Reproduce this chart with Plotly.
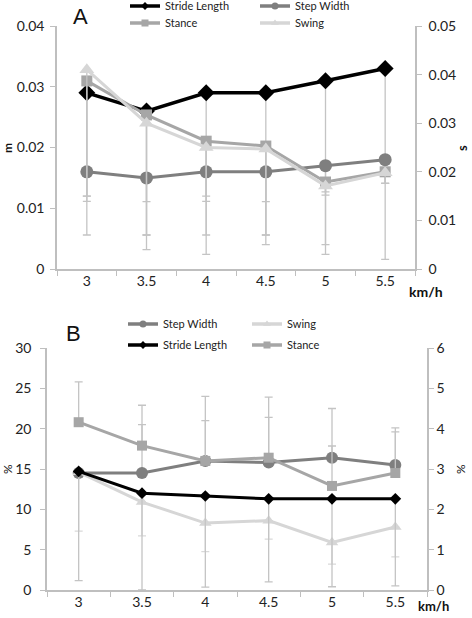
import plotly.graph_objects as go

speeds = ["3", "3.5", "4", "4.5", "5", "5.5"]

# ---- Panel A (left axis: m, right axis: s); error bars are minus-only ----
a_stride = [0.029, 0.026, 0.029, 0.029, 0.031, 0.033]
a_stride_err = [0.0234, 0.0228, 0.0266, 0.0250, 0.0286, 0.0314]
a_step = [0.016, 0.015, 0.016, 0.016, 0.017, 0.018]
a_step_err = [0.0040, 0.0039, 0.0040, 0.0049, 0.0043, 0.0039]
a_stance = [0.0387, 0.0317, 0.0263, 0.0253, 0.0179, 0.0200]
a_stance_err = [0.0248, 0.0247, 0.0124, 0.0183, 0.0027, 0.0024]
a_swing = [0.0410, 0.0300, 0.0250, 0.0247, 0.0171, 0.0198]
a_swing_err = [0.0260, 0.0230, 0.0180, 0.0177, 0.0121, 0.0022]

# ---- Panel B (left axis: %, right axis: %) ----
b_step = [14.5, 14.5, 16.0, 15.8, 16.4, 15.5]
b_step_plus = [0.0, 6.0, 5.0, 5.6, 1.45, 4.1]
b_swing = [14.6, 10.9, 8.3, 8.6, 5.9, 7.8]
b_swing_minus = [7.3, 4.2, 3.55, 2.3, 2.7, 3.7]
b_stride = [2.94, 2.40, 2.33, 2.26, 2.26, 2.26]
b_stride_minus = [2.71, 2.40, 2.26, 2.06, 2.18, 2.16]
b_stance = [4.16, 3.58, 3.20, 3.28, 2.58, 2.90]
b_stance_plus = [1.00, 1.00, 1.60, 1.50, 1.92, 1.12]

C_STRIDE = "#000000"
C_STEP = "#7f7f7f"
C_STANCE = "#a6a6a6"
C_SWING = "#d6d6d6"
C_ERR = "#c4c4c4"
C_ERR_LIGHT = "#d9d9d9"
C_AXIS = "#bfbfbf"
FONT = "Lato"

fig = go.Figure()

STYLE = {
    "Stride Length": (C_STRIDE, "diamond", 6),
    "Step Width": (C_STEP, "circle", 7),
    "Stance": (C_STANCE, "square", 7),
    "Swing": (C_SWING, "triangle-up", 7),
}


def add(name, y, xa, ya, color, symbol, size, lw, plus=None, minus=None, errc=C_ERR):
    err = dict(type="data", symmetric=False,
               array=plus if plus is not None else [0] * len(y),
               arrayminus=minus if minus is not None else [0] * len(y),
               color=errc, thickness=1.3, width=4)
    fig.add_trace(go.Scatter(
        x=speeds, y=y, name=name, xaxis=xa, yaxis=ya, mode="lines+markers",
        line=dict(color=color, width=lw),
        marker=dict(color=color, symbol=symbol, size=size),
        error_y=err, showlegend=False, cliponaxis=False))


def legend_entry(name, xa, ya, legend):
    color, symbol, size = STYLE[name]
    fig.add_trace(go.Scatter(
        x=[None], y=[None], name=name, xaxis=xa, yaxis=ya, mode="lines+markers",
        line=dict(color=color, width=3.5), marker=dict(color=color, symbol=symbol, size=size),
        legend=legend, showlegend=True))


# Panel A
add("Stride Length", a_stride, "x", "y", C_STRIDE, "diamond", 13, 3.5, minus=a_stride_err)
add("Step Width", a_step, "x", "y", C_STEP, "circle", 13, 3, minus=a_step_err)
add("Stance", a_stance, "x", "y2", C_STANCE, "square", 11, 3, minus=a_stance_err)
add("Swing", a_swing, "x", "y2", C_SWING, "triangle-up", 13, 3, minus=a_swing_err)

# Panel B
add("Step Width", b_step, "x2", "y3", C_STEP, "circle", 12, 3, plus=b_step_plus)
add("Swing", b_swing, "x2", "y3", C_SWING, "triangle-up", 11, 3, minus=b_swing_minus, errc=C_ERR_LIGHT)
add("Stance", b_stance, "x2", "y4", C_STANCE, "square", 10, 3, plus=b_stance_plus)
add("Stride Length", b_stride, "x2", "y4", C_STRIDE, "diamond", 9, 3, minus=b_stride_minus)

legend_entry("Stride Length", "x", "y", "legend")
legend_entry("Step Width", "x", "y", "legend2")
legend_entry("Stance", "x", "y", "legend3")
legend_entry("Swing", "x", "y", "legend4")
legend_entry("Step Width", "x2", "y3", "legend5")
legend_entry("Swing", "x2", "y3", "legend6")
legend_entry("Stride Length", "x2", "y3", "legend7")
legend_entry("Stance", "x2", "y3", "legend8")

W, H = 472, 618


def px(x):
    return x / W


def py(y):
    return 1 - y / H


tickfont = dict(family=FONT, size=14, color="#222222")
common_y = dict(showgrid=False, zeroline=False, showline=True, linecolor=C_AXIS, linewidth=1.5,
                ticks="outside", ticklen=5, tickcolor=C_AXIS, tickfont=tickfont)
common_x = dict(type="category", range=[-0.5, 5.5], showgrid=False, zeroline=False, showline=True,
                linecolor=C_AXIS, linewidth=1.5, ticks="outside", ticklen=5, tickcolor=C_AXIS,
                tickson="boundaries", tickfont=tickfont, ticklabelstandoff=-2)

fig.update_layout(
    width=W, height=H, margin=dict(l=0, r=0, t=0, b=0, autoexpand=False),
    paper_bgcolor="white", plot_bgcolor="white", showlegend=True,
    xaxis=dict(domain=[px(57), px(415)], anchor="y", **common_x),
    yaxis=dict(domain=[py(269), py(26)], range=[0, 0.04], dtick=0.01, tickformat="~g",
               ticklabelstandoff=3, **common_y),
    yaxis2=dict(overlaying="y", side="right", anchor="x", range=[0, 0.05], dtick=0.01, tickformat="~g",
                ticklabelstandoff=4, **common_y),
    xaxis2=dict(domain=[px(47), px(427)], anchor="y3", **common_x),
    yaxis3=dict(domain=[py(590), py(348)], anchor="x2", range=[0, 30], dtick=5,
                ticklabelstandoff=6, **common_y),
    yaxis4=dict(overlaying="y3", side="right", anchor="x2", range=[0, 6], dtick=1, **common_y),
)

legfont = dict(family=FONT, size=11, color="#222222")


def leg(x, y):
    return dict(x=px(x), y=py(y), xanchor="left", yanchor="middle", bgcolor="rgba(0,0,0,0)",
                font=legfont, itemwidth=30, tracegroupgap=0)


fig.update_layout(
    legend=leg(125, 6), legend2=leg(255, 6), legend3=leg(125, 23), legend4=leg(255, 23),
    legend5=leg(123, 324), legend6=leg(247, 324), legend7=leg(123, 345), legend8=leg(247, 345),
)

ann = []


def text(x, y, s, size=14, angle=0, bold=False, family=FONT, anchor="center"):
    ann.append(dict(x=px(x), y=py(y), xref="paper", yref="paper", text=("<b>%s</b>" % s) if bold else s,
                    showarrow=False, textangle=angle, xanchor=anchor, yanchor="middle",
                    font=dict(family=family, size=size, color="#111111")))


text(80, 17, "A", size=22, family="Liberation Sans")
text(73, 333, "B", size=22, family="Liberation Sans")
text(7, 148, "m", size=12, angle=-90, bold=True)
text(462, 148, "s", size=13, angle=-90, bold=True)
text(7, 469, "%", size=12, angle=-90)
text(460, 469, "%", size=12, angle=-90)
text(426, 292, "km/h", size=14, bold=True)
text(433, 606, "km/h", size=13, bold=True)
fig.update_layout(annotations=ann)

fig.write_html("out.html", config={"displayModeBar": False},
               post_script="document.body.style.margin='0';")
